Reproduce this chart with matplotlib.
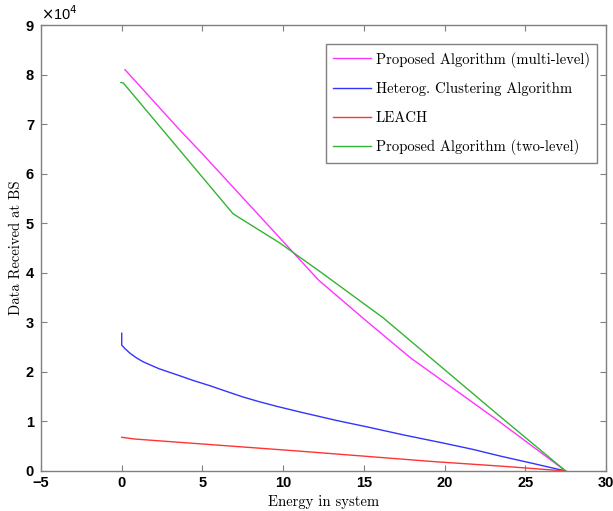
import matplotlib
matplotlib.use("Agg")
import matplotlib.pyplot as plt
from matplotlib.ticker import FuncFormatter

# Data
multi_x = [0.2, 3.6, 5.0, 10.0, 12.2, 15.0, 17.9, 20.0, 23.25, 27.5]
multi_y = [81000, 68800, 64000, 46300, 38500, 30700, 22800, 17900, 10300, 0]

heter_x = [0.0, 0.0, 0.2, 0.5, 0.9, 1.32, 2.3, 3.43, 4.4, 5.47, 6.5, 7.5, 8.5, 9.6,
           11.05, 13.3, 15.2, 17.5, 19.9, 21.7, 23.4, 25.5, 27.5]
heter_y = [27800, 25400, 24700, 23800, 22850, 22050, 20650, 19400, 18300, 17200, 16050,
           14950, 14000, 13050, 11900, 10200, 8900, 7250, 5650, 4400, 3050, 1500, 0]

leach_x = [0.0, 0.8, 11.05, 19.3, 23.4, 27.5]
leach_y = [6800, 6450, 4000, 1900, 1000, 0]

two_x = [-0.05, 0.1, 6.9, 9.8, 12.3, 16.2, 23.4, 27.5]
two_y = [78400, 78300, 51900, 46000, 40200, 30900, 11100, 0]

labels = ["Proposed Algorithm (multi-level)", "Heterog. Clustering Algorithm",
          "LEACH", "Proposed Algorithm (two-level)"]
xticks = [-5, 0, 5, 10, 15, 20, 25, 30]
yticks = [0, 10000, 20000, 30000, 40000, 50000, 60000, 70000, 80000, 90000]

fig = plt.figure(figsize=(6.13, 5.11), dpi=100)
ax = fig.add_axes([0.0669, 0.0783, 0.9217, 0.8727])

ax.plot(multi_x, multi_y, color="#ff33ff", lw=1.0, label=labels[0])
ax.plot(heter_x, heter_y, color="#3333ff", lw=1.0, label=labels[1])
ax.plot(leach_x, leach_y, color="#ff3333", lw=1.0, label=labels[2])
ax.plot(two_x, two_y, color="#33b433", lw=1.0, label=labels[3])

ax.set_xlim(-5, 30)
ax.set_ylim(0, 90000)
ax.set_xticks(xticks)
ax.set_yticks(yticks)
ax.yaxis.set_major_formatter(FuncFormatter(lambda v, p: f"{v/1e4:g}"))
ax.tick_params(direction="in", top=True, right=True, length=4, color="#808080",
               labelsize=10.5, labelcolor="black")
ax.tick_params(axis="y", pad=5)
for lab in ax.get_xticklabels() + ax.get_yticklabels():
    lab.set_family("Liberation Sans")
    lab.set_fontweight("bold")
for s in ax.spines.values():
    s.set_color("#808080")
    s.set_linewidth(1.0)

ax.text(0.0, 1.004, r"$\times$10$^{4}$", transform=ax.transAxes, ha="left", va="bottom",
        fontsize=10.5, family="Liberation Sans")

ax.set_xlabel("Energy in system", family="cmr10", fontsize=10.6, labelpad=4)
ax.set_ylabel("Data Received at BS", family="cmr10", fontsize=10.6, labelpad=2)

leg = ax.legend(loc="upper right", bbox_to_anchor=(0.984, 0.957), borderaxespad=0,
                prop={"family": "cmr10", "size": 10.6},
                fancybox=False, edgecolor="#808080", framealpha=1, handlelength=2.6,
                labelspacing=1.0, borderpad=0.5, handletextpad=0.3)
leg.get_frame().set_linewidth(1.0)

fig.savefig("out.png", dpi=100)
